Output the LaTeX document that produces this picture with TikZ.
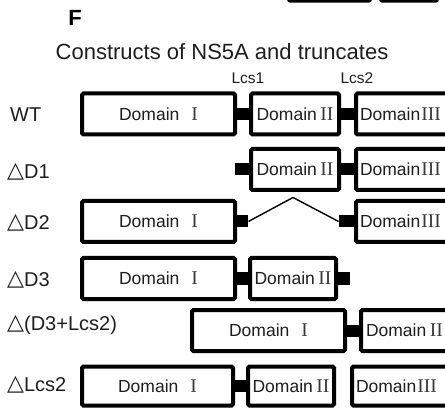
\documentclass[tikz,border=0pt]{standalone}
\usepackage{fontspec}
\setmainfont{Liberation Sans}
\newfontfamily\numfont{Liberation Serif}
\newfontfamily\symfont{DejaVu Sans}
\usetikzlibrary{calc}
\definecolor{txt}{HTML}{1E1E1E}
\definecolor{numc}{HTML}{3A3A3A}
\newcommand{\nm}[1]{{\numfont\fontsize{19.5}{20}\selectfont\color{numc}#1}}
\newcommand{\dI}{Domain\hspace{12pt}\nm{I}}
\newcommand{\dII}{Domain\hspace{3.5pt}\nm{II}}
\newcommand{\dIII}{Domain\hspace{1pt}\nm{III}}
\newcommand{\tri}{{\symfont\fontsize{22}{24}\selectfont\raisebox{0.3pt}{△}}}
\begin{document}
\begin{tikzpicture}[x=1pt,y=-1pt,
  dbox/.style={draw=black, line width=4pt, rounded corners=1.5pt, inner sep=0pt,
    minimum height=41pt, text=txt, font=\fontsize{17.5}{20}\selectfont},
  openbox/.style={dbox, anchor=west, align=left, text width=100pt, inner xsep=4pt},
  lnk/.style={fill=black, draw=none, inner sep=0pt, minimum height=12pt},
  rowlabel/.style={anchor=west, inner sep=0pt, text=txt, font=\fontsize{20}{24}\selectfont},
  lcs/.style={inner sep=0pt, text=txt, font=\fontsize{15.5}{18}\selectfont}]
\useasboundingbox (0,0) rectangle (445,409);
\clip (0,0) rectangle (445,409);
\fill[white] (0,0) rectangle (445,409);

% fragments of the panel above
\draw[line width=3pt, rounded corners=2pt] (288.5,-12) rectangle (370.5,1.2);
\draw[line width=3pt, rounded corners=2pt] (380.5,-12) rectangle (437.5,1.2);

% headings
\node[inner sep=0pt, font=\fontsize{22}{26}\selectfont\bfseries] (F) at (75,18) {F};
\node[inner sep=0pt, text=txt, font=\fontsize{22}{26}\selectfont] (title) at (222,52) {Constructs of NS5A and truncates};
\node[lcs] (lcs1) at (248,78) {Lcs1};
\node[lcs] (lcs2) at (357,78) {Lcs2};

% WT
\node[rowlabel] (lwt) at (10,115) {WT};
\node[dbox, minimum width=153pt] (wa) at (158.5,114) {\dI};
\node[dbox, minimum width=88pt] (wb) at (295,114) {\dII};
\node[openbox] (wc) at (354,114) {\dIII};
\node[lnk, minimum width=14pt] (wl1) at ($(wa.east)!0.5!(wb.west)$) {};
\node[lnk, minimum width=13pt] (wl2) at ($(wb.east)!0.5!(wc.west)$) {};

% Delta D1
\node[rowlabel] (ld1) at (7,172) {\tri D1};
\node[dbox, minimum width=88pt] (ab) at (295,169.5) {\dII};
\node[openbox] (ac) at (354,169.5) {\dIII};
\node[lnk, minimum width=16pt, anchor=east] (as) at ([xshift=2pt]ab.west) {};
\node[lnk, minimum width=13pt] (al2) at ($(ab.east)!0.5!(ac.west)$) {};

% Delta D2
\node[rowlabel] (ld2) at (7,223) {\tri D2};
\node[dbox, minimum width=153pt] (ba) at (158.5,221.5) {\dI};
\node[openbox] (bc) at (354,221.5) {\dIII};
\node[lnk, minimum width=13pt, anchor=west] (bs1) at ([xshift=-2pt]ba.east) {};
\node[lnk, minimum width=17pt, anchor=east] (bs2) at ([xshift=2pt]bc.west) {};
\coordinate (peak) at (293,197.5);
\draw[line width=1.4pt, line join=round] (bs1.east) -- (peak) -- (bs2.west);

% Delta D3
\node[rowlabel] (ld3) at (7,280) {\tri D3};
\node[dbox, minimum width=153pt] (ca) at (158.5,278.5) {\dI};
\node[dbox, minimum width=86pt] (cb) at (293,278.5) {\dII};
\node[lnk, minimum width=13pt] (cl1) at ($(ca.east)!0.5!(cb.west)$) {};
\node[lnk, minimum width=14pt, anchor=west] (cs) at ([xshift=-2pt]cb.east) {};

% Delta (D3+Lcs2)
\node[rowlabel] (ld4) at (7,325) {\tri(D3+Lcs2)};
\node[dbox, minimum width=153pt] (da) at (268.5,330.5) {\dI};
\node[openbox, text width=90pt, inner xsep=5pt] (db) at (359,330.5) {\dII};
\node[lnk, minimum width=12pt] (dl1) at ($(da.east)!0.5!(db.west)$) {};

% Delta Lcs2
\node[rowlabel] (ld5) at (7,385) {\tri Lcs2};
\node[dbox, minimum width=151pt, minimum height=39pt] (ea) at (157.5,386) {\dI};
\node[dbox, minimum width=86pt, minimum height=39pt] (eb) at (291,386) {\dII};
\node[openbox, minimum height=39pt] (ec) at (350,386) {\dIII};
\node[lnk, minimum width=13pt] (el1) at ($(ea.east)!0.5!(eb.west)$) {};
\end{tikzpicture}
\end{document}
